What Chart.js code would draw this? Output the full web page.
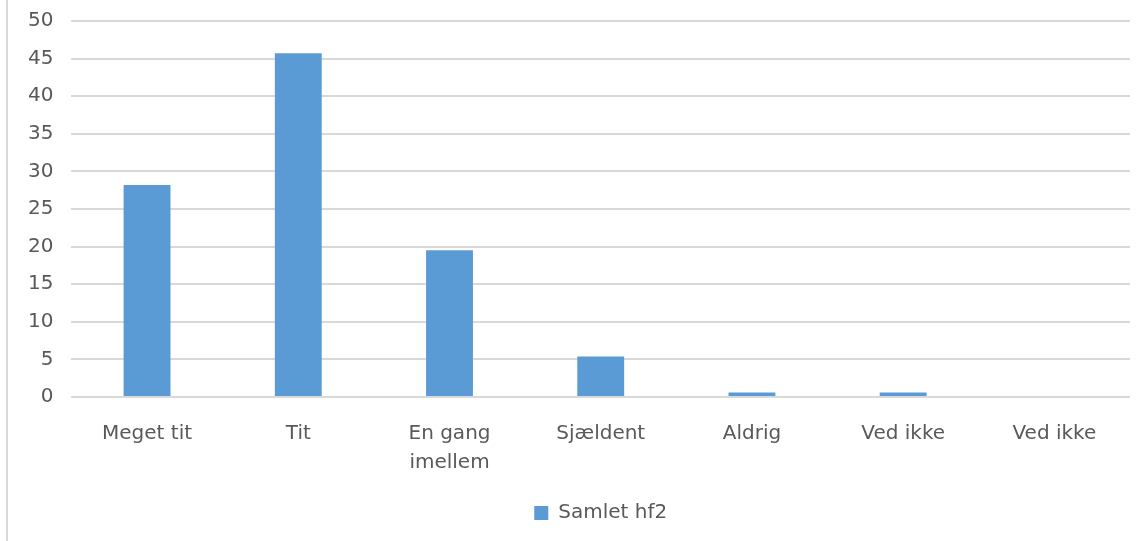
<!DOCTYPE html>
<html>
<head>
<meta charset="utf-8">
<script src="https://cdn.jsdelivr.net/npm/chart.js@4"></script>
<style>
  html, body { margin: 0; padding: 0; background: #fff; overflow: hidden; }
  #page { position: relative; height: 541px; overflow: hidden; border-left: 2px solid #d9d9d9; box-sizing: border-box; margin-left: 6px; width: 1139px; }
  #wrap { position: absolute; left: -8px; top: -9px; width: 1145px; height: 550px; }
</style>
</head>
<body>
<div id="page"><div id="wrap"><canvas id="chart"></canvas></div></div>
<script>
const categories = ['Meget tit', 'Tit', ['En gang', 'imellem'], 'Sjældent', 'Aldrig', 'Ved ikke', 'Ved ikke'];
const seriesName = 'Samlet hf2';
const values = [28.2, 45.7, 19.5, 5.4, 0.6, 0.6, 0];
const yTicks = [0, 5, 10, 15, 20, 25, 30, 35, 40, 45, 50];

const font = 'DejaVu Sans';

const ctx = document.getElementById('chart').getContext('2d');
const chart = new Chart(ctx, {
    type: 'bar',
    data: {
        labels: categories,
        datasets: [{
            label: seriesName,
            data: values,
            backgroundColor: '#5b9bd5',
            borderWidth: 0,
            barPercentage: 0.31,
            categoryPercentage: 1
        }]
    },
    options: {
        responsive: true,
        maintainAspectRatio: false,
        animation: false,
        layout: { padding: { top: 0, right: 15, left: 10, bottom: 8 } },
        scales: {
            x: {
                grid: { display: false },
                border: { display: false },
                ticks: {
                    color: '#595959',
                    font: { family: font, size: 20, lineHeight: 1.45 },
                    maxRotation: 0,
                    autoSkip: false,
                    padding: 14
                }
            },
            y: {
                min: 0,
                max: 50,
                afterBuildTicks(axis) {
                    axis.ticks = yTicks.map(v => ({ value: v }));
                },
                grid: { color: '#d9d9d9', lineWidth: 2, drawTicks: false },
                border: { display: false },
                ticks: {
                    color: '#595959',
                    font: { family: font, size: 20 },
                    padding: 18
                }
            }
        },
        plugins: {
            legend: {
                position: 'bottom',
                fullSize: false,
                labels: {
                    color: '#595959',
                    font: { family: font, size: 20 },
                    boxWidth: 14,
                    boxHeight: 14,
                    padding: 12
                }
            },
            tooltip: { enabled: false }
        }
    }
});
</script>
</body>
</html>
